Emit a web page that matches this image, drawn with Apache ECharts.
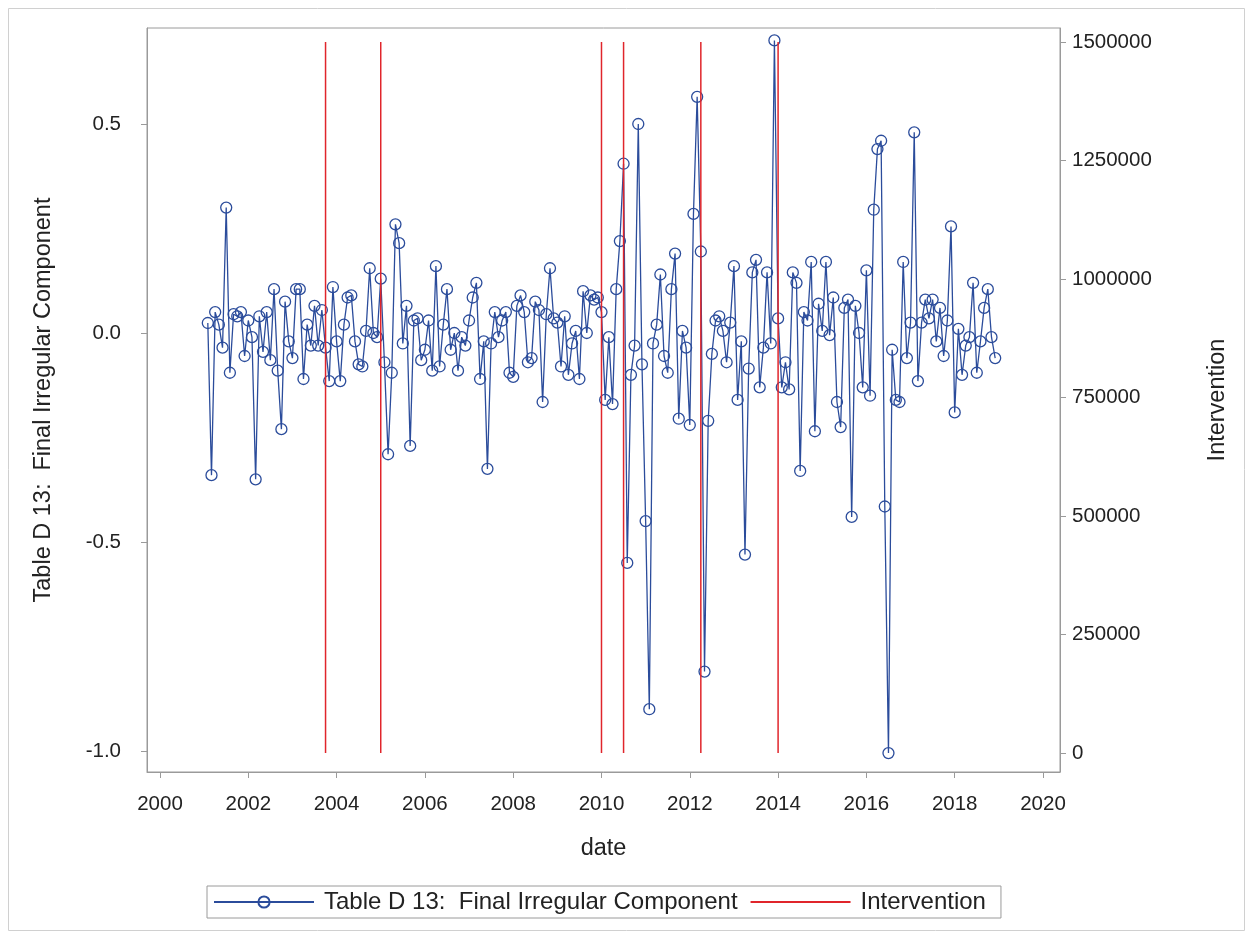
<!DOCTYPE html>
<html>
<head>
<meta charset="utf-8">
<script src="https://cdn.jsdelivr.net/npm/echarts@6/dist/echarts.min.js"></script>
<style>
html,body{margin:0;padding:0;background:#fff;}
#chart{width:1250px;height:937px;}
</style>
</head>
<body>
<div id="chart"></div>
<script>
// Monthly series: first observation Feb 2001, last Dec 2018
const startYear = 2001;
const startMonth = 2;
const irregular = [
  0.024, -0.34, 0.05, 0.02, -0.035, 0.30, -0.095, 0.045, 0.04, 0.05, -0.055,
  0.03, -0.01, -0.35, 0.04, -0.045, 0.05, -0.065, 0.105, -0.09, -0.23, 0.075, -0.02,
  -0.06, 0.105, 0.105, -0.11, 0.02, -0.03, 0.065, -0.03, 0.055, -0.035, -0.115, 0.11,
  -0.02, -0.115, 0.02, 0.085, 0.09, -0.02, -0.075, -0.08, 0.005, 0.155, 0.0, -0.01,
  0.13, -0.07, -0.29, -0.095, 0.26, 0.215, -0.025, 0.065, -0.27, 0.03, 0.035, -0.065,
  -0.04, 0.03, -0.09, 0.16, -0.08, 0.02, 0.105, -0.04, 0.0, -0.09, -0.01, -0.03,
  0.03, 0.085, 0.12, -0.11, -0.02, -0.325, -0.025, 0.05, -0.01, 0.03, 0.05, -0.095,
  -0.105, 0.065, 0.09, 0.05, -0.07, -0.06, 0.075, 0.055, -0.165, 0.045, 0.155, 0.035,
  0.025, -0.08, 0.04, -0.10, -0.025, 0.005, -0.11, 0.10, 0.0, 0.09, 0.08, 0.085,
  0.05, -0.16, -0.01, -0.17, 0.105, 0.22, 0.405, -0.55, -0.10, -0.03, 0.50, -0.075,
  -0.45, -0.90, -0.025, 0.02, 0.14, -0.055, -0.095, 0.105, 0.19, -0.205, 0.005, -0.035,
  -0.22, 0.285, 0.565, 0.195, -0.81, -0.21, -0.05, 0.03, 0.04, 0.005, -0.07, 0.025,
  0.16, -0.16, -0.02, -0.53, -0.085, 0.145, 0.175, -0.13, -0.035, 0.145, -0.025, 0.70,
  0.035, -0.13, -0.07, -0.135, 0.145, 0.12, -0.33, 0.05, 0.03, 0.17, -0.235, 0.07,
  0.005, 0.17, -0.005, 0.085, -0.165, -0.225, 0.06, 0.08, -0.44, 0.065, 0.0, -0.13,
  0.15, -0.15, 0.295, 0.44, 0.46, -0.415, -1.005, -0.04, -0.16, -0.165, 0.17, -0.06,
  0.025, 0.48, -0.115, 0.025, 0.08, 0.035, 0.08, -0.02, 0.06, -0.055, 0.03, 0.255,
  -0.19, 0.01, -0.10, -0.03, -0.01, 0.12, -0.095, -0.02, 0.06, 0.105, -0.01, -0.06
];
const interventionDates = ['2003-10', '2005-01', '2010-01', '2010-07', '2012-04', '2014-01'];
const interventionValue = 1500000;
const xTicks = [2000, 2002, 2004, 2006, 2008, 2010, 2012, 2014, 2016, 2018, 2020];
const leftTicks = [-1.0, -0.5, 0.0, 0.5];
const rightTicks = [0, 250000, 500000, 750000, 1000000, 1250000, 1500000];

const seriesName = 'Table D 13:  Final Irregular Component';
const blue = '#2B4C9B';
const red = '#E0252B';
const FONT = 'Liberation Sans, Arial, sans-serif';
const FS_TICK = 20.5;
const FS_TITLE = 23.5;
const TXT = '#222';

function toYear(ym) {
  const [y, m] = ym.split('-').map(Number);
  return y + (m - 1) / 12;
}
const irrData = irregular.map((v, i) => {
  const mi = startMonth - 1 + i;
  return [startYear + mi / 12, v];
});
const intData = [];
interventionDates.forEach(d => {
  const x = toYear(d);
  intData.push([x, 0], [x, interventionValue], [x, '-']);
});

const chart = echarts.init(document.getElementById('chart'), null, {renderer: 'canvas'});
const axisLineStyle = {color: '#9a9a9a', width: 1};
chart.setOption({
  animation: false,
  backgroundColor: '#fff',
  textStyle: {fontFamily: FONT},
  graphic: [{
    type: 'rect', shape: {x: 8.5, y: 8.5, width: 1236, height: 922},
    style: {fill: 'none', stroke: '#d0d0d0', lineWidth: 1}, silent: true
  }],
  grid: {left: 147, right: 190, top: 28, bottom: 165, show: true, borderColor: '#9a9a9a', borderWidth: 1},
  legend: {
    bottom: 19, left: 207,
    data: [seriesName, {name: 'Intervention', itemStyle: {opacity: 0}}],
    itemWidth: 100, itemHeight: 14, itemGap: 12,
    padding: [4, 15, 4, 6],
    borderColor: '#9a9a9a', borderWidth: 1,
    textStyle: {fontSize: 24, color: TXT, fontFamily: FONT, padding: [0, 0, 0, 5]}
  },
  xAxis: {
    type: 'value', min: 1999.706, max: 2020.385,
    name: 'date', nameLocation: 'middle', nameGap: 65,
    nameTextStyle: {fontSize: FS_TITLE, color: TXT},
    axisLine: {onZero: false, lineStyle: axisLineStyle},
    axisTick: {customValues: xTicks, length: 6, lineStyle: axisLineStyle},
    axisLabel: {customValues: xTicks, fontSize: FS_TICK, color: TXT, margin: 22, formatter: v => String(Math.round(v))},
    splitLine: {show: false}
  },
  yAxis: [{
    type: 'value', min: -1.0502, max: 0.7297,
    name: seriesName, nameLocation: 'middle', nameGap: 91, nameRotate: 90,
    nameTextStyle: {fontSize: FS_TITLE, color: TXT},
    axisLine: {show: true, onZero: false, lineStyle: axisLineStyle},
    axisTick: {show: true, customValues: leftTicks, length: 6, lineStyle: axisLineStyle},
    axisLabel: {customValues: leftTicks, fontSize: FS_TICK, color: TXT, margin: 26, formatter: v => v.toFixed(1)},
    splitLine: {show: false}
  }, {
    type: 'value', min: -40100, max: 1529500, position: 'right',
    name: 'Intervention', nameLocation: 'middle', nameGap: 146, nameRotate: 90,
    nameTextStyle: {fontSize: FS_TITLE, color: TXT},
    axisLine: {show: true, onZero: false, lineStyle: axisLineStyle},
    axisTick: {show: true, customValues: rightTicks, length: 6, lineStyle: axisLineStyle},
    axisLabel: {customValues: rightTicks, fontSize: FS_TICK, color: TXT, margin: 12, formatter: v => String(v)},
    splitLine: {show: false}
  }],
  series: [{
    name: seriesName, type: 'line', yAxisIndex: 0,
    data: irrData,
    symbol: 'circle', symbolSize: 11, showAllSymbol: true,
    lineStyle: {color: blue, width: 1.3},
    itemStyle: {color: 'rgba(255,255,255,0)', borderColor: blue, borderWidth: 1.3},
    z: 2
  }, {
    name: 'Intervention', type: 'line', yAxisIndex: 1,
    data: intData, connectNulls: false,
    symbol: 'none',
    lineStyle: {color: red, width: 1.5},
    itemStyle: {color: red},
    z: 3
  }]
});
</script>
</body>
</html>
